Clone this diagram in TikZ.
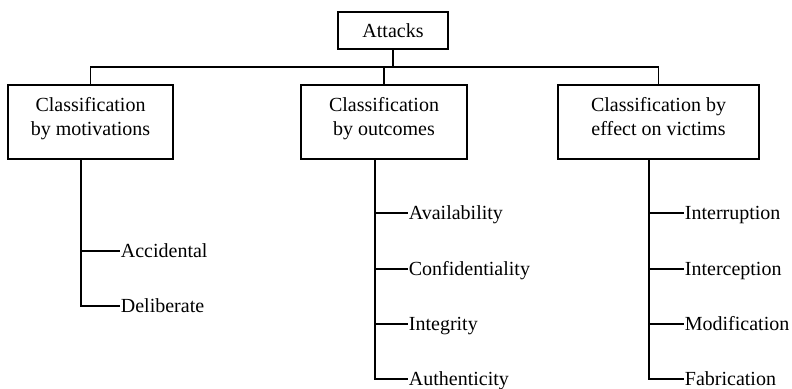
\documentclass[tikz,border=0pt]{standalone}
\usepackage{fontspec}
\setmainfont{Liberation Serif}
\begin{document}
\begin{tikzpicture}[x=1pt,y=-1pt,line width=1.8pt,
  box/.style={draw,align=center,inner sep=0pt,font=\fontsize{20}{23.3}\selectfont},
  twoline/.style={text height=37pt,text depth=11pt},
  leaf/.style={anchor=base west,inner sep=0pt,text height=15pt,text depth=3pt,font=\fontsize{20}{23.3}\selectfont}]
\useasboundingbox (0,0) rectangle (792,388);
\node[box,minimum width=110pt,minimum height=37pt] (att) at (393,30.5) {Attacks};
\node[box,twoline,minimum width=165pt,minimum height=74pt] (c1) at (90.5,122) {Classification\\by motivations};
\node[box,twoline,minimum width=166pt,minimum height=74pt] (c2) at (384,122) {Classification\\by outcomes};
\node[box,twoline,minimum width=201pt,minimum height=74pt] (c3) at (658.5,122) {Classification by\\effect on victims};
\coordinate (j) at (393,67);
\draw (att.south) -- (j);
\draw (c1.north) -- (c1.north |- j) -- (c3.north |- j) -- (c3.north);
\draw (c2.north) -- (c2.north |- j);
% leaves
\node[leaf] (acc) at (120,257) {Accidental};
\node[leaf] (del) at (120,312) {Deliberate};
\node[leaf] (ava) at (408,219) {Availability};
\node[leaf] (con) at (408,275) {Confidentiality};
\node[leaf] (int) at (408,330) {Integrity};
\node[leaf] (aut) at (408,385) {Authenticity};
\node[leaf] (itr) at (684,219) {Interruption};
\node[leaf] (itc) at (684,275) {Interception};
\node[leaf] (mod) at (684,330) {Modification};
\node[leaf] (fab) at (684,385) {Fabrication};
\foreach \n in {acc,del} \draw ([xshift=-9.5pt]c1.south) |- (\n.west);
\foreach \n in {ava,con,int,aut} \draw ([xshift=-9pt]c2.south) |- (\n.west);
\foreach \n in {itr,itc,mod,fab} \draw ([xshift=-9.5pt]c3.south) |- (\n.west);
\end{tikzpicture}
\end{document}
